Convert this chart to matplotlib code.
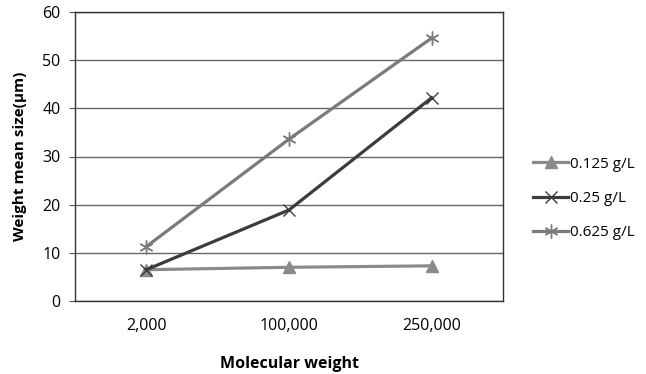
import numpy as np
import matplotlib.pyplot as plt

plt.rcParams['font.family'] = ['Open Sans', 'DejaVu Sans']

categories = ["2,000", "100,000", "250,000"]
series_labels = ["0.125 g/L", "0.25 g/L", "0.625 g/L"]
vals_0125 = [6.5, 7.0, 7.3]
vals_025 = [6.5, 18.9, 42.2]
vals_0625 = [11.3, 33.6, 54.6]


def plot_sizes(file_name="out.png"):
    fig = plt.figure(figsize=(6.46, 3.74), dpi=100)
    ax = fig.add_axes([75 / 646, 73 / 374, 428 / 646, 289 / 374])
    x = np.arange(len(categories))

    ax.plot(x, vals_0125, color="#8a8a8a", marker="^", markersize=9,
            linewidth=2.3, label=series_labels[0], zorder=3)
    ax.plot(x, vals_025, color="#3c3c3c", marker="x", markersize=9,
            markeredgewidth=1, linewidth=2.3, label=series_labels[1], zorder=3)
    ax.plot(x, vals_0625, color="#7a7a7a", marker=(6, 2, 0), markersize=10,
            markeredgewidth=1, linewidth=2.3, label=series_labels[2], zorder=3)

    ax.set_xlim(-0.5, 2.5)
    ax.set_ylim(0, 60)
    ax.set_yticks(range(0, 61, 10))
    ax.set_xticks(x)
    ax.set_xticklabels(categories)
    ax.tick_params(axis="x", length=0, pad=12, labelsize=11.5)
    ax.tick_params(axis="y", length=4.5, pad=6, labelsize=11.5, color="#555555")
    ax.yaxis.grid(True, color="#666666", linewidth=1)
    ax.set_axisbelow(True)
    for s in ax.spines.values():
        s.set_color("#333333")
        s.set_linewidth(1)

    ax.set_ylabel("Weight mean size(μm)", fontweight="bold", fontsize=11, labelpad=11)
    ax.set_xlabel("Molecular weight", fontweight="bold", fontsize=11.5, labelpad=16)

    ax.legend(loc="center left", bbox_to_anchor=(1.07, 0.355), frameon=False,
              borderaxespad=0, borderpad=0, fontsize=11, handlelength=2.3,
              handletextpad=0.15, labelspacing=1.25)
    plt.savefig(file_name)


if __name__ == "__main__":
    plot_sizes()
